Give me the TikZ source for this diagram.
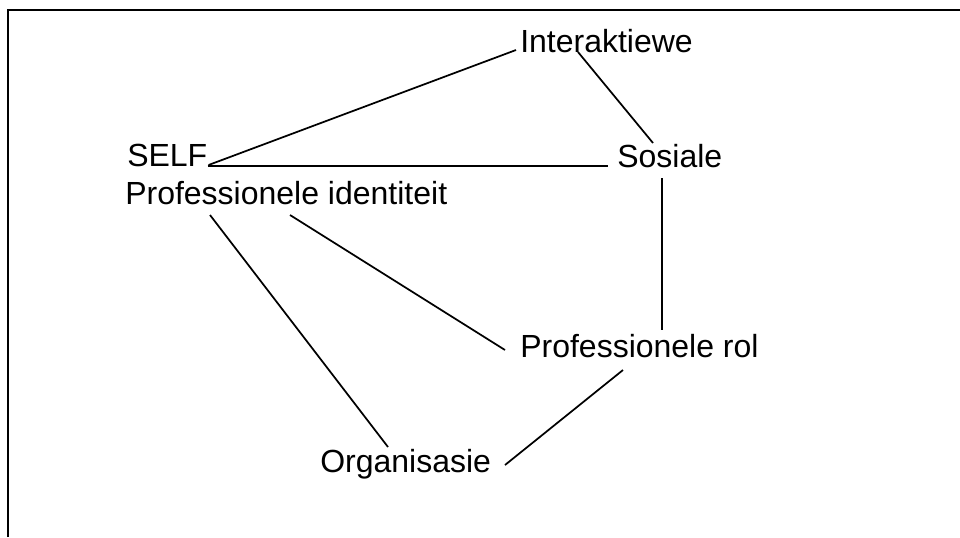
\documentclass[tikz,border=0pt]{standalone}
\usepackage{fontspec}
\setmainfont{Liberation Sans}
\usetikzlibrary{calc}
\begin{document}
\begin{tikzpicture}[x=0.75pt,y=-0.75pt,
  lbl/.style={anchor=base west,inner sep=0pt,font=\fontsize{24}{28}\selectfont},
  link/.style={line width=1.3pt,black},
  frame/.style={line width=1.2pt,black}]
\useasboundingbox (0,0) rectangle (960,537);
\draw[frame] (8,537) -- (8,10) -- (960,10);
\node[lbl] (inter) at (520,52) {Interaktiewe};
\node[lbl] (self) at (127,166) {SELF};
\node[lbl] (ident) at (125,204) {Professionele identiteit};
\node[lbl] (sos) at (617,167) {Sosiale};
\node[lbl] (rol) at (520,357) {Professionele rol};
\node[lbl] (org) at (320,472) {Organisasie};
\draw[link] ($(self.base east)+(1,-1)$) -- ($(inter.base west)+(-4,-2)$);
\draw[link] ($(inter.base west)+(58,0)$) -- ($(sos.base west)+(36,-24)$);
\draw[link] ($(self.base east)+(0,0)$) -- ($(sos.base west)+(-9,-1)$);
\draw[link] ($(sos.base west)+(45,11)$) -- ($(rol.base west)+(142,-27)$);
\draw[link] ($(ident.base west)+(165,11)$) -- ($(rol.base west)+(-15,-7)$);
\draw[link] ($(ident.base west)+(85,11)$) -- ($(org.base west)+(68,-25)$);
\draw[link] ($(rol.base west)+(103,13)$) -- ($(org.base west)+(185,-7)$);
\end{tikzpicture}
\end{document}
